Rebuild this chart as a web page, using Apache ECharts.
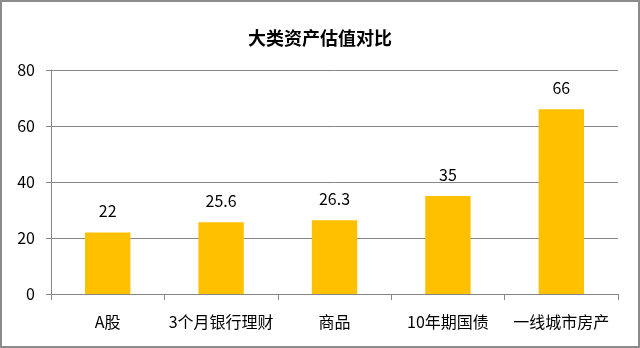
<!DOCTYPE html>
<html><head><meta charset="utf-8">
<script src="https://cdn.jsdelivr.net/npm/echarts@6/dist/echarts.min.js"></script>
<style>
html,body{margin:0;padding:0;background:#fff;}
#c{width:640px;height:348px;box-sizing:border-box;border:2px solid #8c8c8c;}
</style></head>
<body><div id="c"></div>
<script>
const title = '大类资产估值对比';
const categories = ['A股','3个月银行理财','商品','10年期国债','一线城市房产'];
const values = [22, 25.6, 26.3, 35, 66];
const yTicks = {min:0, max:80, interval:20};

const chart = echarts.init(document.getElementById('c'), null, {renderer:'canvas'});
const font = '"Microsoft YaHei","Noto Sans CJK SC","Noto Sans",sans-serif';
chart.setOption({
  animation:false,
  title:{text:title,left:'center',top:22,textStyle:{fontFamily:font,fontSize:18,fontWeight:'bold',color:'#000'}},
  grid:{left:49,right:20,top:68,bottom:52},
  xAxis:{type:'category',data:categories,
    axisLine:{lineStyle:{color:'#868686',width:1}},
    axisTick:{show:true,length:6,lineStyle:{color:'#868686'}},
    axisLabel:{color:'#000',fontFamily:font,fontSize:16,margin:20,interval:0}},
  yAxis:{type:'value',min:yTicks.min,max:yTicks.max,interval:yTicks.interval,
    axisLine:{show:true,lineStyle:{color:'#868686',width:1}},
    axisTick:{show:true,length:5,lineStyle:{color:'#868686'}},
    splitLine:{lineStyle:{color:'#868686',width:1}},
    axisLabel:{color:'#000',fontFamily:font,fontSize:16,margin:16}},
  series:[{type:'bar',data:values,barWidth:'40%',
    itemStyle:{color:'#FFC000'},
    label:{show:true,position:'top',distance:13,color:'#000',fontFamily:font,fontSize:16}}]
});
</script></body></html>
